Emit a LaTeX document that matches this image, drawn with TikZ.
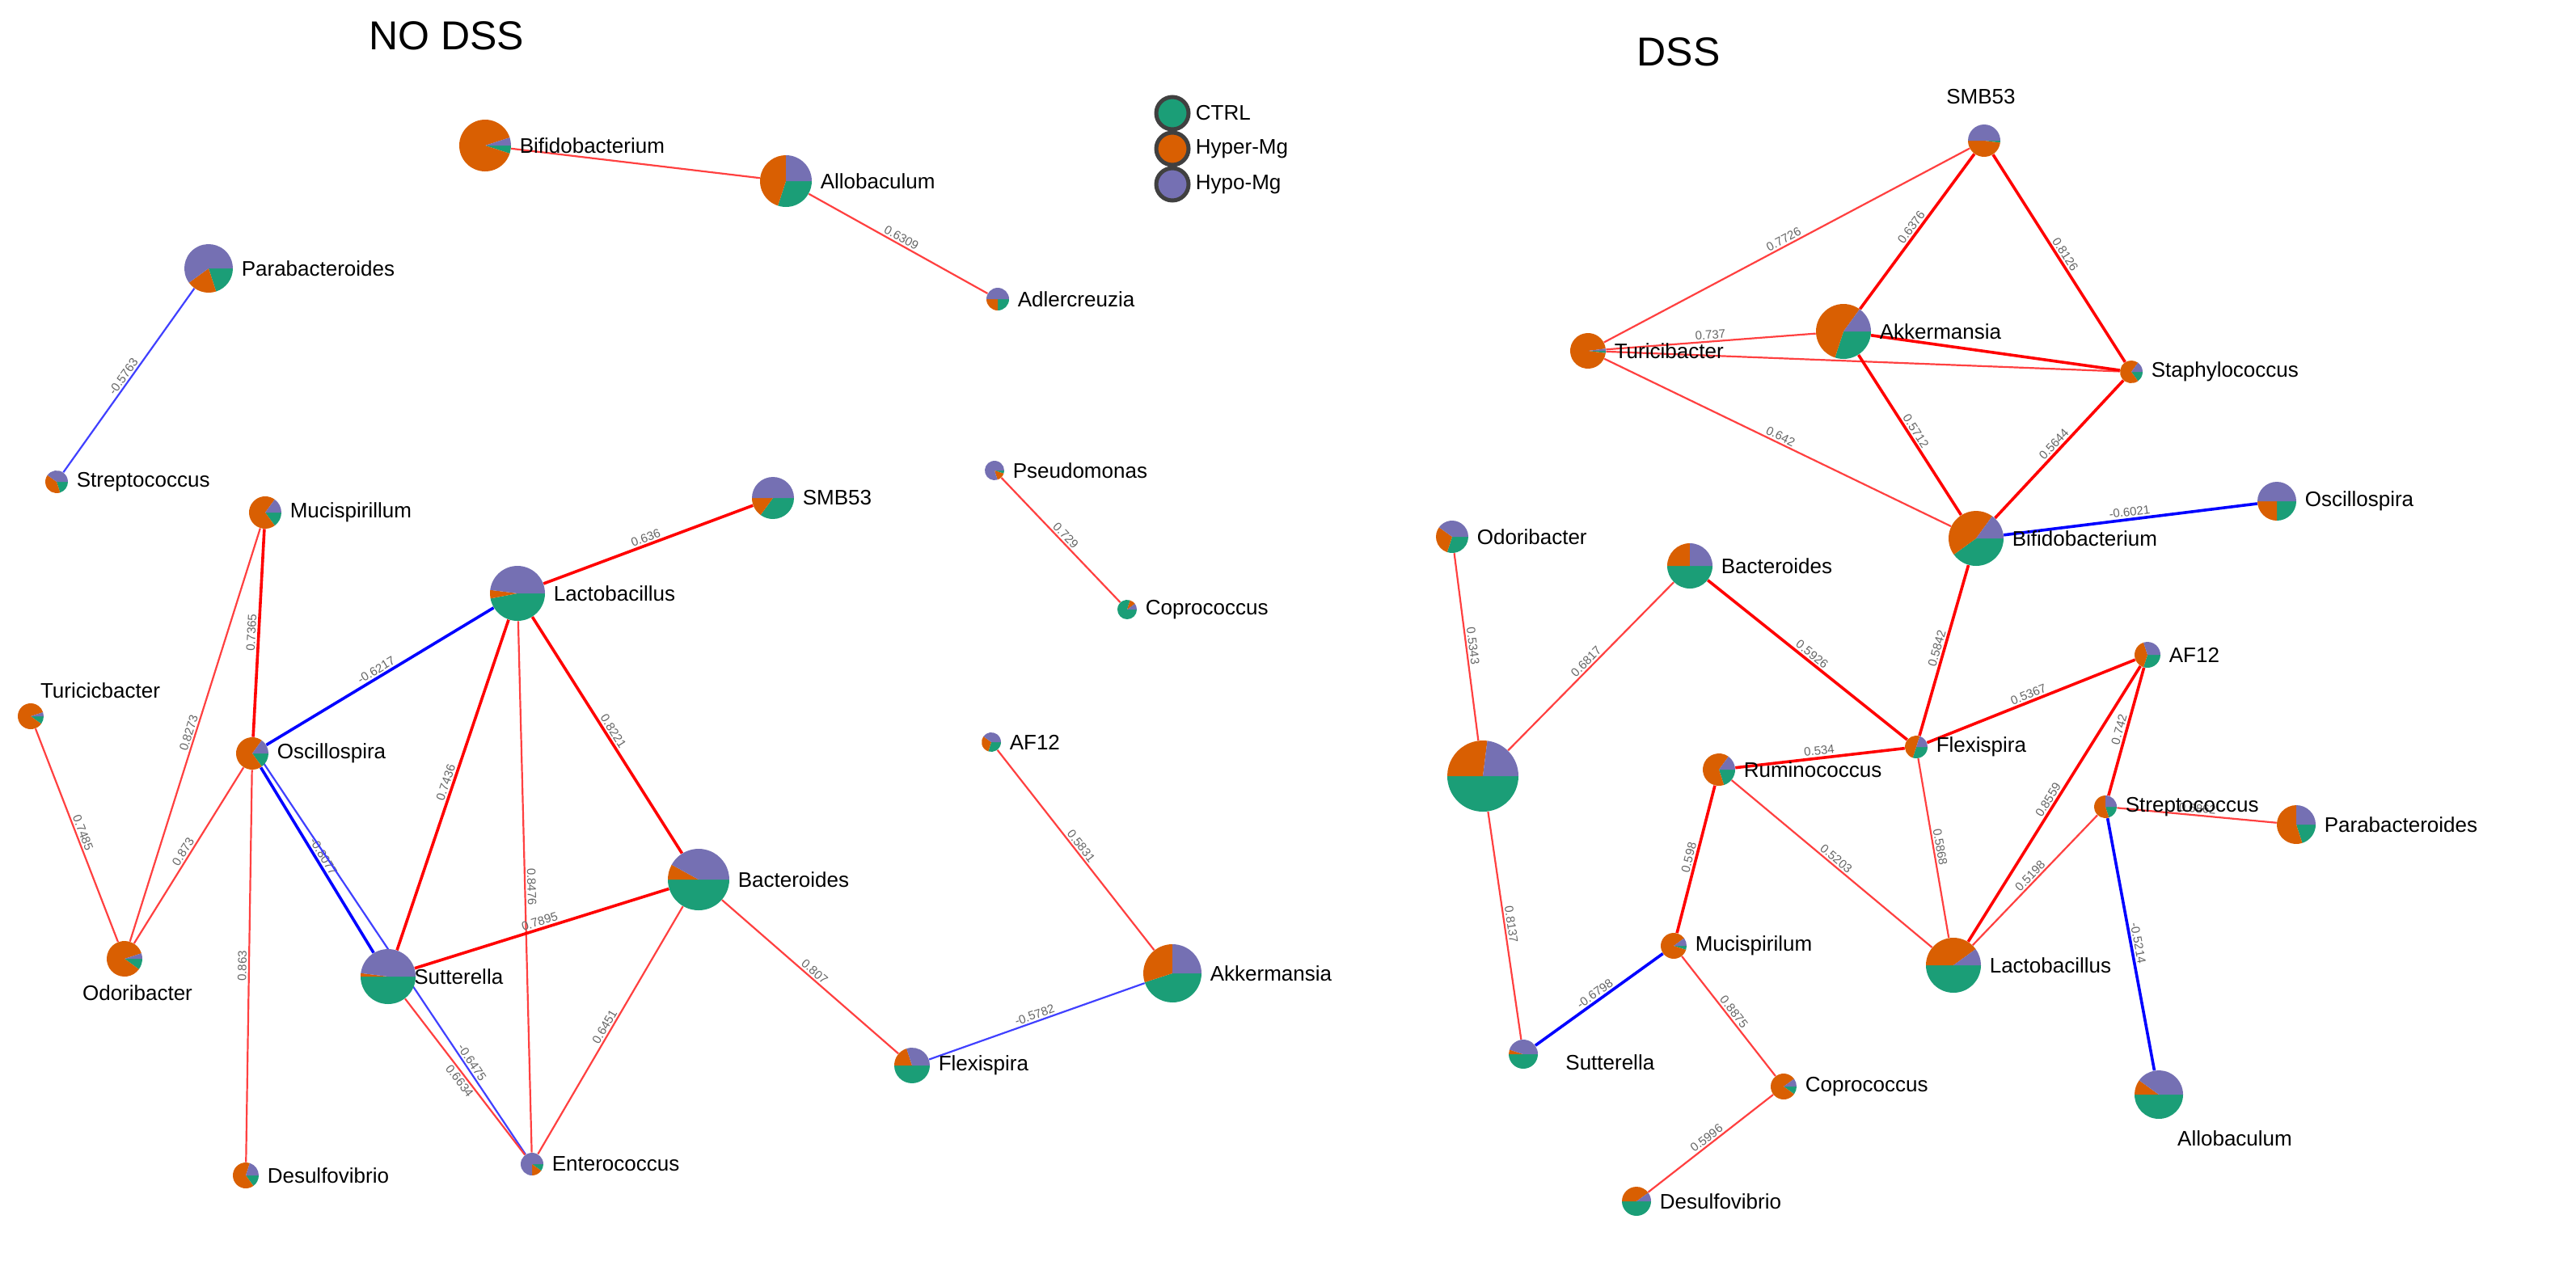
\documentclass[tikz,border=0pt]{standalone}
\usepackage{fontspec}
\setmainfont{Liberation Sans}
\begin{document}
\definecolor{cg}{HTML}{1B9E77}
\definecolor{co}{HTML}{D95F02}
\definecolor{cp}{HTML}{7570B3}
\begin{tikzpicture}[x=1pt,y=-1pt,
  lab/.style={font=\fontsize{13}{13}\selectfont,inner sep=0pt},
  el/.style={font=\fontsize{7.5}{7.5}\selectfont,text=black!60,sloped,above,inner sep=1pt},
  re/.style={draw=red!75,line width=1.1pt},
  rt/.style={draw=red,line width=1.8pt},
  be/.style={draw=blue!75,line width=1.1pt},
  bt/.style={draw=blue,line width=1.8pt}]
\useasboundingbox (0,0) rectangle (1593,785);
\newcommand\dn[5][right]{\node[circle,inner sep=0pt,minimum size=#5*2pt] (#2) at (#3,#4) {};}
\newcommand\pie[4]{%
  \fill[cg] (#1.center) -- ++(0:#2) arc[start angle=0,end angle={360*#3},radius=#2] -- cycle;
  \fill[co] (#1.center) -- ++({360*#3}:#2) arc[start angle={360*#3},end angle={360*(#3+#4)},radius=#2] -- cycle;
  \fill[cp] (#1.center) -- ++({360*(#3+#4)}:#2) arc[start angle={360*(#3+#4)},end angle=360,radius=#2] -- cycle;}
\newcommand\lr[2]{\node[lab,anchor=west] at ([xshift=5pt]#1.east) {#2};}
% ---------- NO DSS ----------
\node[font=\fontsize{25}{25}\selectfont] (t1) at (276,22) {NO DSS};
\dn{bif}{300}{90}{16}\dn{allo}{486}{112}{16}\dn{adl}{617}{185}{7}
\dn{para}{129}{166}{15}\dn{strep}{35}{298}{7}\dn{muc}{164}{317}{10}
\dn{smb}{478}{308}{13}\dn{pse}{615}{291}{6}\dn{cop}{697}{377}{6}
\dn{lac}{320}{367}{17}\dn{tur}{19}{443}{8}\dn{osc}{156}{466}{10}
\dn{af}{613}{459}{6}\dn{bac}{432}{544}{19}\dn{odo}{77}{593}{11}
\dn{sut}{240}{604}{17}\dn{akk}{725}{602}{18}\dn{flex}{564}{659}{11}
\dn{des}{152}{727}{8}\dn{ent}{329}{720}{7}
\draw[re] (bif) -- (allo);
\draw[re] (allo) -- node[el]{0.6309} (adl);
\draw[be] (para) -- node[el]{-0.5763} (strep);
\draw[re] (pse) -- node[el]{0.729} (cop);
\draw[re] (af) -- node[el]{0.5831} (akk);
\draw[rt] (lac) -- node[el]{0.636} (smb);
\draw[bt] (osc) -- node[el]{-0.6217} (lac);
\draw[rt] (sut) -- node[el]{0.7436} (lac);
\draw[re] (lac) -- node[el]{0.8476} (ent);
\draw[rt] (lac) -- node[el]{0.8221} (bac);
\draw[rt] (muc) -- node[el]{0.7365} (osc);
\draw[re] (odo) -- node[el]{0.8273} (muc);
\draw[re] (tur) -- node[el]{0.7485} (odo);
\draw[re] (odo) -- node[el]{0.873} (osc);
\draw[re] (osc) -- node[el]{0.863} (des);
\draw[bt] (osc) -- node[el,pos=0.5]{-0.8077} (sut);
\draw[be] ([xshift=3pt]osc.center) -- node[el,pos=0.78]{-0.6475} (ent);
\draw[re] (sut) -- node[el,below]{0.6634} (ent);
\draw[rt] (sut) -- node[el]{0.7895} (bac);
\draw[re] (ent) -- node[el]{0.6451} (bac);
\draw[re] (bac) -- node[el]{0.807} (flex);
\draw[be] (flex) -- node[el]{-0.5782} (akk);
\pie{bif}{16}{0.05}{0.9}\lr{bif}{Bifidobacterium}
\pie{allo}{16}{0.3}{0.45}\lr{allo}{Allobaculum}
\pie{adl}{7}{0.25}{0.25}\lr{adl}{Adlercreuzia}
\pie{para}{15}{0.2}{0.2}\lr{para}{Parabacteroides}
\pie{strep}{7}{0.2}{0.4}\lr{strep}{Streptococcus}
\pie{muc}{10}{0.15}{0.7}\lr{muc}{Mucispirillum}
\pie{smb}{13}{0.35}{0.15}\lr{smb}{SMB53}
\pie{pse}{6}{0.05}{0.15}\lr{pse}{Pseudomonas}
\pie{cop}{6}{0.8}{0.1}\lr{cop}{Coprococcus}
\pie{lac}{17}{0.47}{0.05}\lr{lac}{Lactobacillus}
\pie{tur}{8}{0.1}{0.85}\node[lab] at (62,427) {Turicicbacter};
\pie{osc}{10}{0.15}{0.7}\lr{osc}{Oscillospira}
\pie{af}{6}{0.3}{0.3}\lr{af}{AF12}
\pie{bac}{19}{0.5}{0.08}\lr{bac}{Bacteroides}
\pie{odo}{11}{0.1}{0.85}\node[lab] at (85,614) {Odoribacter};
\pie{sut}{17}{0.5}{0.02}\node[lab,anchor=west] at (256,604) {Sutterella};
\pie{akk}{18}{0.45}{0.3}\lr{akk}{Akkermansia}
\pie{flex}{11}{0.5}{0.2}\lr{flex}{Flexispira}
\pie{des}{8}{0.15}{0.65}\lr{des}{Desulfovibrio}
\pie{ent}{7}{0.1}{0.15}\lr{ent}{Enterococcus}
% legend
\foreach \c/\t/\y [count=\i] in {cg/CTRL/70,co/Hyper-Mg/92,cp/Hypo-Mg/114}{
  \node[circle,fill=\c,draw=black!75,line width=2.5pt,minimum size=20pt,inner sep=0pt] (lg\i) at (725,\y) {};
  \node[lab,anchor=west] at ([xshift=3pt]lg\i.east) {\t};}
% ---------- DSS ----------
\node[font=\fontsize{25}{25}\selectfont] (t2) at (1038,32) {DSS};
\dn{Dsmb}{1227}{87}{10}\dn{Dtur}{982}{217}{11}\dn{Dakk}{1140}{205}{17}
\dn{Dsta}{1318}{230}{7}\dn{Dbif}{1222}{333}{17}\dn{Dosc}{1408}{310}{12}
\dn{Dodo}{898}{332}{10}\dn{Dbac}{1045}{350}{14}\dn{Daf}{1328}{405}{8}
\dn{Dflex}{1185}{462}{7}\dn{Drum}{1063}{476}{10}\dn{Dstr}{1302}{499}{7}
\dn{Dpara}{1420}{510}{12}\dn{Dbig}{917}{480}{22}\dn{Dmuc}{1035}{585}{8}
\dn{Dlac}{1208}{597}{17}\dn{Dallo}{1335}{677}{15}\dn{Dsut}{942}{652}{9}
\dn{Dcop}{1103}{672}{8}\dn{Ddes}{1012}{743}{9}
\draw[re] (Dtur) -- node[el]{0.7726} (Dsmb);
\draw[rt] (Dakk) -- node[el]{0.6376} (Dsmb);
\draw[rt] (Dsmb) -- node[el]{0.8126} (Dsta);
\draw[re] (Dtur) -- node[el]{0.737} (Dakk);
\draw[re] (Dtur) -- (Dsta);
\draw[rt] (Dakk) -- (Dsta);
\draw[re] (Dtur) -- node[el]{0.642} (Dbif);
\draw[rt] (Dakk) -- node[el]{0.5712} (Dbif);
\draw[rt] (Dbif) -- node[el]{0.5644} (Dsta);
\draw[bt] (Dbif) -- node[el]{-0.6021} (Dosc);
\draw[rt] (Dflex) -- node[el]{0.5842} (Dbif);
\draw[re] (Dodo) -- node[el]{0.5343} (Dbig);
\draw[re] (Dbig) -- node[el]{0.6817} (Dbac);
\draw[rt] (Dbac) -- node[el]{0.5926} (Dflex);
\draw[rt] (Drum) -- node[el]{0.534} (Dflex);
\draw[rt] (Dflex) -- node[el]{0.5367} (Daf);
\draw[re] (Dflex) -- node[el]{0.5868} (Dlac);
\draw[rt] (Dlac) -- node[el]{0.8559} (Daf);
\draw[rt] (Dstr) -- node[el]{0.742} (Daf);
\draw[re] (Dstr) -- node[el]{0.6862} (Dpara);
\draw[re] (Dlac) -- node[el]{0.5198} (Dstr);
\draw[bt] (Dstr) -- node[el]{-0.5214} (Dallo);
\draw[rt] (Dmuc) -- node[el]{0.598} (Drum);
\draw[re] (Drum) -- node[el]{0.5203} (Dlac);
\draw[re] (Dbig) -- node[el]{0.8137} (Dsut);
\draw[bt] (Dsut) -- node[el]{-0.6798} (Dmuc);
\draw[re] (Dmuc) -- node[el]{0.8875} (Dcop);
\draw[re] (Ddes) -- node[el]{0.5996} (Dcop);
\pie{Dsmb}{10}{0.02}{0.48}\node[lab] at (1225,60) {SMB53};
\pie{Dtur}{11}{0.02}{0.96}\lr{Dtur}{Turicibacter}
\pie{Dakk}{17}{0.3}{0.55}\lr{Dakk}{Akkermansia}
\pie{Dsta}{7}{0.15}{0.7}\lr{Dsta}{Staphylococcus}
\pie{Dbif}{17}{0.4}{0.45}\lr{Dbif}{Bifidobacterium}
\pie{Dosc}{12}{0.25}{0.25}\lr{Dosc}{Oscillospira}
\pie{Dodo}{10}{0.3}{0.3}\lr{Dodo}{Odoribacter}
\pie{Dbac}{14}{0.5}{0.25}\lr{Dbac}{Bacteroides}
\pie{Daf}{8}{0.3}{0.4}\lr{Daf}{AF12}
\pie{Dflex}{7}{0.3}{0.5}\lr{Dflex}{Flexispira}
\pie{Drum}{10}{0.2}{0.65}\lr{Drum}{Ruminococcus}
\pie{Dstr}{7}{0.2}{0.55}\lr{Dstr}{Streptococcus}
\pie{Dpara}{12}{0.2}{0.55}\lr{Dpara}{Parabacteroides}
\pie{Dbig}{22}{0.5}{0.27}
\pie{Dmuc}{8}{0.05}{0.85}\lr{Dmuc}{Mucispirilum}
\pie{Dlac}{17}{0.5}{0.4}\lr{Dlac}{Lactobacillus}
\pie{Dallo}{15}{0.5}{0.1}\node[lab] at (1382,704) {Allobaculum};
\pie{Dsut}{9}{0.5}{0.05}\node[lab,anchor=west] at (968,657) {Sutterella};
\pie{Dcop}{8}{0.1}{0.8}\lr{Dcop}{Coprococcus}
\pie{Ddes}{9}{0.5}{0.4}\lr{Ddes}{Desulfovibrio}
\end{tikzpicture}
\end{document}
